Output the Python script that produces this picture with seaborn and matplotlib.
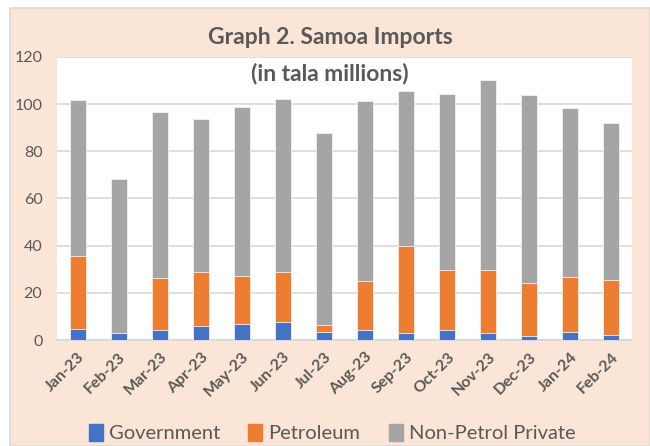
import matplotlib
matplotlib.use("Agg")
import matplotlib.pyplot as plt
from matplotlib.patches import Rectangle, Patch
import seaborn as sns
import pandas as pd
import numpy as np

months = ["Jan-23", "Feb-23", "Mar-23", "Apr-23", "May-23", "Jun-23", "Jul-23",
          "Aug-23", "Sep-23", "Oct-23", "Nov-23", "Dec-23", "Jan-24", "Feb-24"]
government = [4.6, 3.1, 4.2, 6.1, 6.8, 7.8, 3.5, 4.4, 3.1, 4.4, 3.1, 1.8, 3.5, 2.3]
petroleum = [31.1, 0.0, 22.1, 22.7, 20.5, 21.0, 2.9, 20.5, 36.9, 25.4, 26.7, 22.4, 23.3, 23.3]
non_petrol_private = [66.0, 65.3, 70.5, 64.7, 71.6, 73.6, 81.2, 76.5, 65.6, 74.7, 80.4, 79.6, 71.7, 66.5]
yticks = [0, 20, 40, 60, 80, 100, 120]

df = pd.DataFrame({"month": months, "Government": government,
                   "Petroleum": petroleum, "Non-Petrol Private": non_petrol_private})
df["gov_top"] = df["Government"]
df["pet_top"] = df["Government"] + df["Petroleum"]
df["total"] = df["pet_top"] + df["Non-Petrol Private"]

c_blue, c_orange, c_gray = "#4472C4", "#ED7D31", "#A5A5A5"
txt = "#595959"
peach = "#FBE5D6"

sns.set_theme(style="white")
plt.rcParams["font.family"] = ["Lato", "DejaVu Sans"]

fig = plt.figure(figsize=(6.5, 4.46), dpi=100)
fig.patch.set_facecolor("white")
fig.patches.append(Rectangle((10 / 650, 0), 1 - 10 / 650, (446 - 8) / 446,
                             transform=fig.transFigure, facecolor=peach,
                             edgecolor="#D9D9D9", linewidth=1.2, zorder=-10))

ax = fig.add_axes([57 / 650, (446 - 340) / 446, (632 - 57) / 650, 283 / 446])
ax.set_facecolor("white")

kw = dict(data=df, x="month", ax=ax, width=0.39, edgecolor="#F2F2F2",
          linewidth=0.6, saturation=1, zorder=3)
sns.barplot(y="total", color=c_gray, **kw)
sns.barplot(y="pet_top", color=c_orange, **kw)
sns.barplot(y="gov_top", color=c_blue, **kw)

ax.set_ylim(0, 120)
ax.set_yticks(yticks)
ax.set_yticklabels([str(v) for v in yticks], fontsize=11.5, color=txt)
ax.set_xlim(-0.5, len(months) - 0.5)
ax.set_xticks(range(len(months)))
ax.set_xticklabels(months, rotation=45, ha="right", rotation_mode="anchor",
                   fontsize=11.5, fontweight="bold", color=txt)
ax.tick_params(axis="y", length=0, pad=10.5)
ax.tick_params(axis="x", length=0, pad=7)
ax.set_xlabel("")
ax.set_ylabel("")
ax.grid(axis="y", color="#D9D9D9", linewidth=1.2, zorder=0)
ax.set_axisbelow(True)
for s in ["top", "right", "left"]:
    ax.spines[s].set_visible(False)
ax.spines["bottom"].set_color("#D0D8E8")
ax.spines["bottom"].set_linewidth(1.2)

fig.text(330 / 650, 1 - 37 / 446, "Graph 2. Samoa Imports", ha="center", va="center",
         fontsize=16.5, fontweight="bold", color=txt)
fig.text(330 / 650, 1 - 73 / 446, "(in tala millions)", ha="center", va="center",
         fontsize=16.5, fontweight="bold", color=txt)

handles = [Patch(color=c_blue), Patch(color=c_orange), Patch(color=c_gray)]
fig.legend(handles, ["Government", "Petroleum", "Non-Petrol Private"],
           loc="center", bbox_to_anchor=(332 / 650, 1 - 433 / 446), ncol=3,
           frameon=False, fontsize=14.5, labelcolor=txt, handlelength=0.7,
           handleheight=0.9, handletextpad=0.3, columnspacing=1.4)

fig.savefig("out.png", dpi=100, facecolor=fig.get_facecolor())
